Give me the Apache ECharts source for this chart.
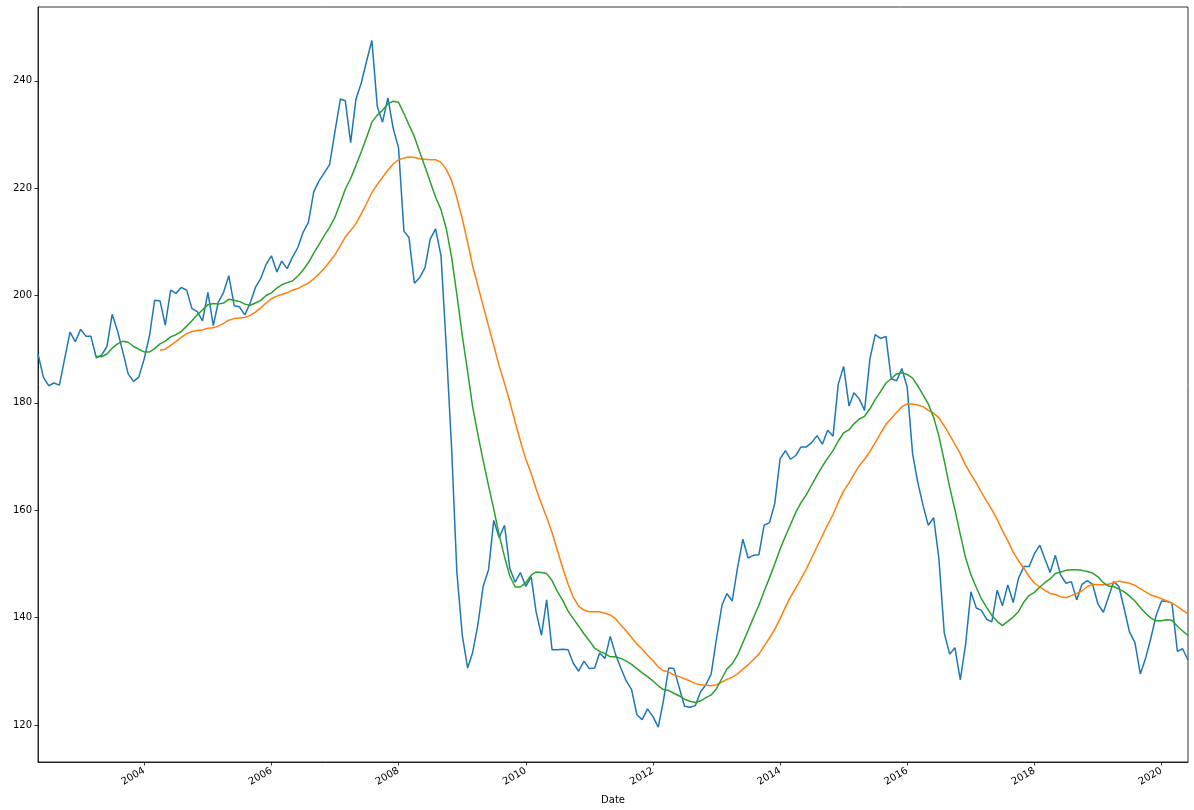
<!DOCTYPE html>
<html>
<head>
<meta charset="utf-8">
<script src="https://cdn.jsdelivr.net/npm/echarts@6/dist/echarts.min.js"></script>
<style>
html,body{margin:0;padding:0;background:#fff;}
#c{width:1194px;height:810px;}
</style>
</head>
<body>
<div id="c"></div>
<script>
// First month of the monthly series (year, month index 0-based)
const startYear = 2002;
const startMonthIndex = 4; // May

// Monthly values (blue)
const price = [
189.1,184.8,183.2,183.7,183.3,188.2,193.2,191.4,193.7,192.4,
192.4,188.4,188.9,190.5,196.5,193.4,189.4,185.4,184.0,184.8,
188.2,192.6,199.1,199.0,194.5,201.0,200.4,201.5,201.0,197.6,
197.0,195.3,200.6,194.4,198.7,200.6,203.7,198.1,197.9,196.4,
198.6,201.5,203.2,205.8,207.4,204.4,206.4,205.0,207.1,208.9,
211.7,213.6,219.3,221.3,222.9,224.4,230.6,236.6,236.3,228.5,
236.5,239.6,243.6,247.5,235.2,232.3,236.8,231.2,227.5,212.0,
210.8,202.3,203.3,205.2,210.5,212.4,207.4,190.6,171.5,148.5,
136.8,130.6,133.4,138.7,145.8,148.9,158.1,154.9,157.2,149.2,
146.6,148.4,145.8,147.6,141.1,136.7,143.3,134.0,134.0,134.1,
134.0,131.5,130.0,131.9,130.5,130.6,133.4,132.4,136.5,133.1,
130.6,128.2,126.6,121.9,121.0,123.0,121.6,119.6,124.4,130.6,
130.5,126.9,123.5,123.3,123.6,126.2,127.5,129.5,136.2,142.3,
144.5,143.1,149.2,154.6,151.1,151.6,151.7,157.2,157.7,161.2,
169.6,171.1,169.5,170.2,171.8,171.8,172.6,173.9,172.3,174.9,
173.8,183.5,186.8,179.4,181.9,180.7,178.6,188.2,192.7,192.0,
192.4,184.5,184.1,186.4,182.9,170.5,165.3,160.9,157.2,158.6,
151.0,137.1,133.2,134.4,128.4,134.9,144.8,141.8,141.4,139.7,
139.2,145.1,142.2,146.1,142.8,147.3,149.5,149.5,151.9,153.5,
151.0,148.4,151.6,147.9,146.4,146.7,143.3,146.2,146.9,146.2,
142.5,141.0,143.7,146.7,145.8,141.6,137.3,135.4,129.5,132.4,
136.2,140.4,143.1,143.0,142.7,133.7,134.2,132.1
];

// Long smooth line (orange), starts at month 23
const ma24Start = 23;
const ma24 = [
189.8,190.0,190.7,191.4,192.2,192.9,193.3,193.5,193.6,193.9,
194.0,194.3,194.8,195.4,195.7,195.8,195.9,196.3,196.9,197.7,
198.6,199.4,199.9,200.2,200.5,201.0,201.3,201.8,202.3,203.1,
204.0,205.1,206.3,207.6,209.3,210.9,212.1,213.4,215.2,217.1,
219.2,220.7,222.0,223.4,224.5,225.3,225.6,225.8,225.7,225.5,
225.4,225.3,225.3,224.8,223.5,221.4,218.2,214.3,209.9,205.6,
201.8,198.1,194.3,190.7,186.9,183.6,180.2,176.4,172.9,169.5,
166.9,164.0,161.2,158.7,155.8,152.6,149.3,146.2,143.8,142.1,
141.4,141.1,141.1,141.1,140.8,140.5,139.8,138.6,137.5,136.3,
135.1,134.1,133.0,132.0,130.8,130.1,129.9,129.3,129.0,128.6,
128.2,127.7,127.5,127.4,127.3,127.5,128.0,128.5,128.9,129.5,
130.4,131.2,132.2,133.2,134.7,136.2,137.8,139.8,142.0,143.8,
145.5,147.2,149.1,151.1,153.2,155.3,157.3,159.2,161.5,163.6,
165.1,166.7,168.3,169.5,170.9,172.6,174.3,176.0,177.1,178.2,
179.3,179.8,179.8,179.6,179.3,178.6,178.1,177.2,175.7,174.0,
172.3,170.5,168.4,166.7,165.1,163.4,161.7,160.1,158.3,156.2,
154.3,152.2,150.6,149.2,147.7,146.4,145.7,145.1,144.5,144.3,
143.9,143.7,144.1,144.5,145.0,145.8,146.2,146.1,146.1,146.2,
146.5,146.8,146.6,146.4,146.0,145.4,144.8,144.2,143.9,143.5,
143.1,142.7,142.1,141.4,140.7
];

// Short smooth line (green), starts at month 11
const ma12Start = 11;
const ma12 = [
188.7,188.6,189.1,190.2,191.0,191.5,191.3,190.5,190.0,189.5,
189.5,190.1,191.0,191.5,192.3,192.7,193.3,194.3,195.3,196.4,
197.3,198.3,198.5,198.4,198.6,199.3,199.1,198.9,198.4,198.2,
198.6,199.1,200.0,200.5,201.4,202.0,202.4,202.7,203.6,204.7,
206.1,207.9,209.5,211.2,212.7,214.6,217.3,219.8,221.8,224.2,
226.8,229.4,232.3,233.6,234.5,235.7,236.2,236.0,233.9,231.8,
229.6,226.8,224.0,221.2,218.3,216.0,212.5,207.1,200.2,192.6,
185.8,179.4,174.1,169.3,164.6,160.2,155.4,151.3,147.8,145.7,
145.7,146.5,147.9,148.5,148.4,148.2,146.9,144.9,143.2,141.2,
139.8,138.4,137.0,135.7,134.3,133.7,133.3,132.7,132.7,132.4,
131.9,131.3,130.5,129.7,129.0,128.2,127.3,126.6,126.4,125.9,
125.4,124.8,124.4,124.2,124.5,125.1,125.6,126.8,128.7,130.4,
131.4,133.0,135.3,137.6,140.0,142.3,144.9,147.4,150.0,152.8,
155.2,157.3,159.6,161.4,162.9,164.7,166.5,168.2,169.7,171.1,
172.9,174.4,175.0,176.1,177.0,177.5,178.9,180.6,182.1,183.7,
184.5,185.4,185.6,185.3,184.6,183.2,181.5,179.8,177.3,173.8,
169.2,164.3,160.1,155.5,151.2,148.0,145.6,143.6,141.9,140.4,
139.3,138.5,139.3,140.1,141.1,142.9,144.1,144.7,145.7,146.5,
147.2,148.2,148.5,148.8,148.9,148.9,148.8,148.6,148.3,147.6,
146.5,145.9,145.8,145.3,144.8,144.0,143.1,141.9,140.8,139.9,
139.4,139.4,139.6,139.5,138.4,137.5,136.7
];

const xTickYears = [2004, 2006, 2008, 2010, 2012, 2014, 2016, 2018, 2020];
const yTicks = [120, 140, 160, 180, 200, 220, 240];
const yMin = 113.1, yMax = 253.75;

// month timestamps (linear numeric date axis)
const dates = price.map((_, i) => new Date(startYear, startMonthIndex + i, 1).getTime());
const xTickTimes = xTickYears.map(y => new Date(y, 0, 1).getTime());

const s0 = price.map((v, i) => [dates[i], v]);
const s24 = ma24.map((v, k) => [dates[ma24Start + k], v]);
const s12 = ma12.map((v, k) => [dates[ma12Start + k], v]);

const FONT = 'DejaVu Sans';
const axisColor = '#000';

const chart = echarts.init(document.getElementById('c'), null, {renderer: 'canvas'});
chart.setOption({
  animation: false,
  backgroundColor: '#ffffff',
  grid: {left: 38, right: 6, top: 7, bottom: 46, show: true, borderColor: axisColor, borderWidth: 0.8, backgroundColor: 'transparent', containLabel: false},
  xAxis: {
    type: 'value',
    min: dates[0],
    max: dates[dates.length - 1],
    name: 'Date',
    nameLocation: 'middle',
    nameGap: 33,
    nameTextStyle: {fontFamily: FONT, fontSize: 10, color: '#000'},
    axisLine: {show: true, onZero: false, lineStyle: {color: axisColor, width: 0.8}},
    axisTick: {show: true, inside: false, length: 3.5, lineStyle: {color: axisColor, width: 0.8}, customValues: xTickTimes},
    axisLabel: {
      show: true, customValues: xTickTimes, rotate: 30, margin: 8,
      fontFamily: FONT, fontSize: 10, color: '#000',
      formatter: v => String(new Date(v).getFullYear())
    },
    splitLine: {show: false}
  },
  yAxis: {
    type: 'value',
    min: yMin,
    max: yMax,
    axisLine: {show: true, onZero: false, lineStyle: {color: axisColor, width: 0.8}},
    axisTick: {show: true, inside: false, length: 3.5, lineStyle: {color: axisColor, width: 0.8}, customValues: yTicks},
    axisLabel: {show: true, customValues: yTicks, margin: 6, fontFamily: FONT, fontSize: 10, color: '#000', formatter: v => String(v)},
    splitLine: {show: false}
  },
  series: [
    {type: 'line', data: s0, showSymbol: false, symbol: 'none', lineStyle: {color: '#1f77b4', width: 1.5}, itemStyle: {color: '#1f77b4'}},
    {type: 'line', data: s24, showSymbol: false, symbol: 'none', lineStyle: {color: '#ff7f0e', width: 1.5}, itemStyle: {color: '#ff7f0e'}},
    {type: 'line', data: s12, showSymbol: false, symbol: 'none', lineStyle: {color: '#2ca02c', width: 1.5}, itemStyle: {color: '#2ca02c'}}
  ]
});
</script>
</body>
</html>
